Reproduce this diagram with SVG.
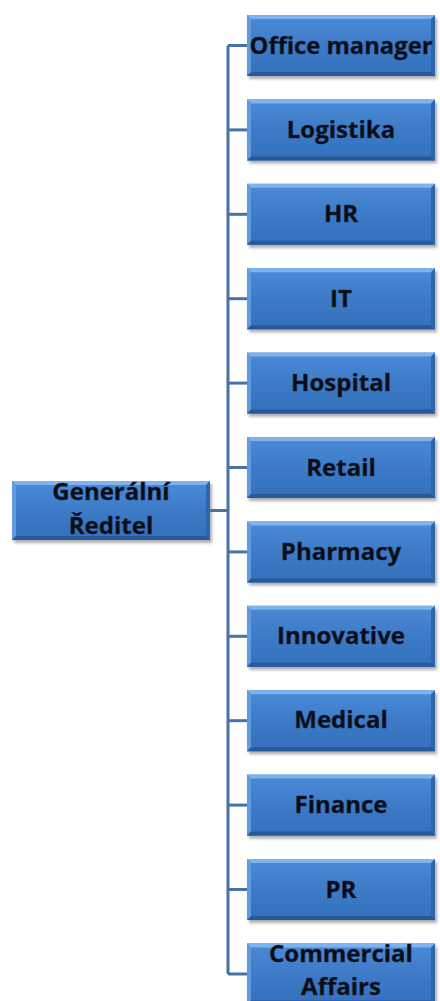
<svg xmlns="http://www.w3.org/2000/svg" width="440" height="1001" viewBox="0 0 440 1001">
  <defs>
    <linearGradient id="boxFill" x1="0" y1="0" x2="0" y2="1">
      <stop offset="0" stop-color="#4b8ad6"/>
      <stop offset="0.5" stop-color="#3d7bc7"/>
      <stop offset="1" stop-color="#3470bb"/>
    </linearGradient>
    <filter id="shadow" x="-10%" y="-20%" width="130%" height="150%">
      <feGaussianBlur stdDeviation="1.6"/>
    </filter>
    <!-- bevelled box, 188 x 61, drawn at the origin -->
    <g id="box">
      <rect x="2" y="3" width="188" height="61" fill="#6b6b6b" opacity="0.55" filter="url(#shadow)"/>
      <rect x="0" y="0" width="188" height="61" fill="url(#boxFill)"/>
      <polygon points="0,0 188,0 184,4 4,4" fill="#7fb3ee"/>
      <polygon points="0,0 4,4 4,57 0,61" fill="#5f9be0"/>
      <polygon points="188,0 188,61 184,57 184,4" fill="#2f66ab"/>
      <polygon points="0,61 4,57 184,57 188,61" fill="#26589a"/>
    </g>
    <g id="boxWide">
      <rect x="2" y="3" width="198" height="59" fill="#6b6b6b" opacity="0.55" filter="url(#shadow)"/>
      <rect x="0" y="0" width="198" height="59" fill="url(#boxFill)"/>
      <polygon points="0,0 198,0 194,4 4,4" fill="#7fb3ee"/>
      <polygon points="0,0 4,4 4,55 0,59" fill="#5f9be0"/>
      <polygon points="198,0 198,59 194,55 194,4" fill="#2f66ab"/>
      <polygon points="0,59 4,55 194,55 198,59" fill="#26589a"/>
    </g>
  </defs>
  <style>
    .lbl { font-family: "Open Sans", "Liberation Sans", sans-serif; font-weight: 700; font-size: 24px; fill: #0a0c14; stroke: #1c2c52; stroke-width: 0.5; text-anchor: middle; }
    .conn { stroke: #4672a8; stroke-width: 3; fill: none; }
  </style>

  <rect width="440" height="1001" fill="#ffffff"/>

  <!-- connectors -->
  <g id="connectors" class="conn">
    <path d="M210,510.5 H228"/>
    <path d="M228,45.5 V974"/>
    <path d="M228,45.5 H247"/>
    <path d="M228,129.9 H247"/>
    <path d="M228,214.3 H247"/>
    <path d="M228,298.7 H247"/>
    <path d="M228,383.1 H247"/>
    <path d="M228,467.5 H247"/>
    <path d="M228,551.9 H247"/>
    <path d="M228,636.3 H247"/>
    <path d="M228,720.7 H247"/>
    <path d="M228,805.1 H247"/>
    <path d="M228,889.5 H247"/>
    <path d="M228,974 H247"/>
  </g>

  <g id="node-reditel">
    <use href="#boxWide" x="12" y="481"/>
    <text class="lbl" x="111" y="500">Generální</text>
    <text class="lbl" x="111" y="534">Ředitel</text>
  </g>

  <g id="node-office">
    <use href="#box" x="247" y="15"/>
    <text class="lbl" x="341" y="53.5" textLength="183" lengthAdjust="spacingAndGlyphs">Office manager</text>
  </g>
  <g id="node-logistika">
    <use href="#box" x="247" y="99.4"/>
    <text class="lbl" x="341" y="137.9">Logistika</text>
  </g>
  <g id="node-hr">
    <use href="#box" x="247" y="183.8"/>
    <text class="lbl" x="341" y="222.3">HR</text>
  </g>
  <g id="node-it">
    <use href="#box" x="247" y="268.2"/>
    <text class="lbl" x="341" y="306.7">IT</text>
  </g>
  <g id="node-hospital">
    <use href="#box" x="247" y="352.6"/>
    <text class="lbl" x="341" y="391.1">Hospital</text>
  </g>
  <g id="node-retail">
    <use href="#box" x="247" y="437"/>
    <text class="lbl" x="341" y="475.5">Retail</text>
  </g>
  <g id="node-pharmacy">
    <use href="#box" x="247" y="521.4"/>
    <text class="lbl" x="341" y="559.9">Pharmacy</text>
  </g>
  <g id="node-innovative">
    <use href="#box" x="247" y="605.8"/>
    <text class="lbl" x="341" y="644.3">Innovative</text>
  </g>
  <g id="node-medical">
    <use href="#box" x="247" y="690.2"/>
    <text class="lbl" x="341" y="728.2">Medical</text>
  </g>
  <g id="node-finance">
    <use href="#box" x="247" y="774.6"/>
    <text class="lbl" x="341" y="813.1">Finance</text>
  </g>
  <g id="node-pr">
    <use href="#box" x="247" y="859"/>
    <text class="lbl" x="341" y="897.5">PR</text>
  </g>
  <g id="node-commercial">
    <use href="#box" x="247" y="943.4"/>
    <text class="lbl" x="341" y="962">Commercial</text>
    <text class="lbl" x="341" y="995">Affairs</text>
  </g>
</svg>
